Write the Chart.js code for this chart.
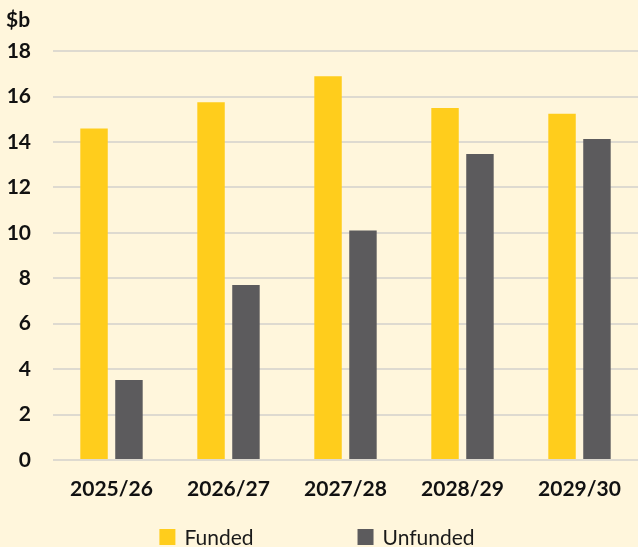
<!DOCTYPE html>
<html>
<head>
<meta charset="utf-8">
<script src="https://cdn.jsdelivr.net/npm/chart.js@4.4.1/dist/chart.umd.min.js"></script>
<style>
  html, body { margin: 0; padding: 0; background: #FFF6DC; }
  #wrap { width: 638px; height: 547px; position: relative; }
</style>
</head>
<body>
<div id="wrap"><canvas id="budgetChart"></canvas></div>
<script>
// Funded vs unfunded ($b)
const years = ['2025/26', '2026/27', '2027/28', '2028/29', '2029/30'];
const funded = [14.6, 15.75, 16.9, 15.5, 15.25];
const unfunded = [3.52, 7.7, 10.1, 13.47, 14.13];
const yTicks = [0, 2, 4, 6, 8, 10, 12, 14, 16, 18];

const FONT = 'Lato';
const YELLOW = '#FFCD1C';
const GREY = '#5C5B5D';

// legend drawn by hand so the two items can sit far apart like the original
const bottomLegend = {
    id: 'bottomLegend',
    afterDraw(chart) {
        const ctx = chart.ctx;
        const box = 16, gap = 9, spacing = 104, y = 537;
        ctx.save();
        ctx.font = '21px "' + FONT + '"';
        ctx.textBaseline = 'middle';
        const items = chart.data.datasets.map(ds => ({
            text: ds.label, color: ds.backgroundColor,
            w: box + gap + ctx.measureText(ds.label).width
        }));
        const total = items.reduce((s, it) => s + it.w, 0) + spacing * (items.length - 1);
        let x = (chart.width - total) / 2 - 2;
        items.forEach(it => {
            ctx.fillStyle = it.color;
            ctx.fillRect(x, y - 8, box, 16);
            ctx.fillStyle = '#1a1a1a';
            ctx.fillText(it.text, x + box + gap, y + 1);
            x += it.w + spacing;
        });
        ctx.restore();
    }
};

const ctx = document.getElementById('budgetChart').getContext('2d');
const budgetChart = new Chart(ctx, {
    type: 'bar',
    data: {
        labels: years,
        datasets: [
            { label: 'Funded', data: funded, backgroundColor: YELLOW },
            { label: 'Unfunded', data: unfunded, backgroundColor: GREY }
        ]
    },
    options: {
        responsive: true,
        maintainAspectRatio: false,
        animation: false,
        categoryPercentage: 0.597,
        barPercentage: 0.786,
        layout: { padding: { left: 6, right: 0, top: 0, bottom: 47 } },
        plugins: {
            legend: { display: false },
            tooltip: { enabled: false },
            title: {
                display: true,
                text: '$b',
                align: 'start',
                color: '#111',
                font: { family: FONT, size: 21, weight: 'bold' },
                padding: { top: 8, bottom: 18 }
            }
        },
        scales: {
            y: {
                min: 0,
                max: 18,
                afterBuildTicks: axis => { axis.ticks = yTicks.map(v => ({ value: v })); },
                afterFit: axis => { axis.width = 47; },
                ticks: { color: '#111', padding: 22, font: { family: FONT, size: 21, weight: 'bold' } },
                grid: { color: '#DEDAD0', lineWidth: 2, drawTicks: false },
                border: { display: false }
            },
            x: {
                afterFit: axis => { axis.height = 40; },
                ticks: { color: '#111', padding: 17, font: { family: FONT, size: 21, weight: 'bold' } },
                grid: { display: false, drawTicks: false },
                border: { display: false }
            }
        }
    },
    plugins: [bottomLegend]
});
</script>
</body>
</html>
